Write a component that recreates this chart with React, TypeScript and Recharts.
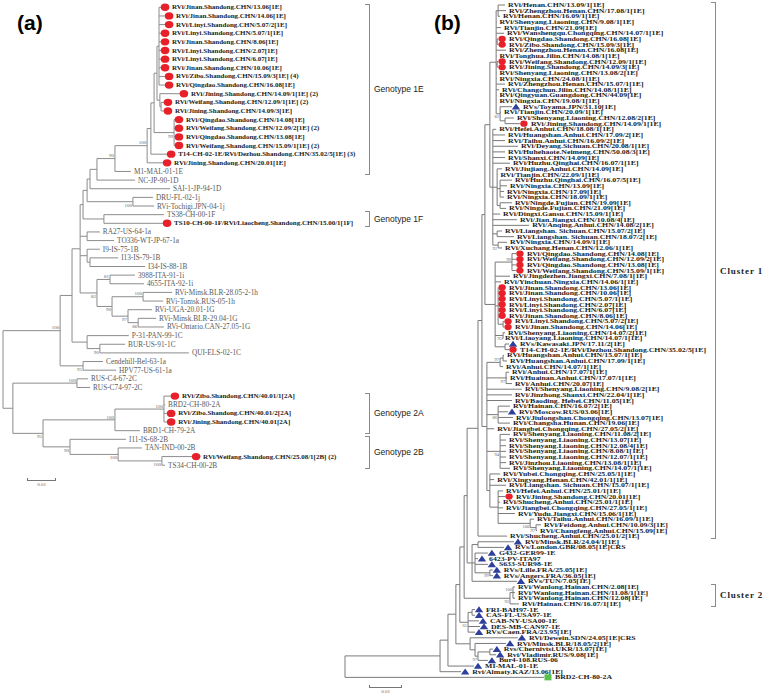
import { ScatterChart, Scatter, XAxis, YAxis, ReferenceLine } from "recharts";

// Trees in Newick form. The number after ":" is the distance of that node from the
// root, in 0.001 substitutions/site. Leaf prefix: * red dot, ^ blue triangle, # green square.
const treeA = `(
 (
  (
   (
    (
     (
      (
       (
        (
         (
          (
           (
            (
             ('*RVi/Jinan.Shandong.CHN/13.06[1E]':54.5,
              '*RVi/Jinan.Shandong.CHN/14.06[1E]':55.9,
              '*RVi/Linyi.Shandong.CHN/5.07/2[1E]':55.9,
              '*RVi/Linyi.Shandong.CHN/5.07/1[1E]':54.5,
              '*RVi/Jinan.Shandong.CHN/8.06[1E]':54.5,
              '*RVi/Linyi.Shandong.CHN/2.07[1E]':54.5,
              '*RVi/Linyi.Shandong.CHN/6.07[1E]':54.5,
              '*RVi/Jinan.Shandong.CHN/10.06[1E]':54.5,
              '*RVi/Zibo.Shandong.CHN/15.09/3[1E] (4)':55.9,
              '*RVi/Qingdao.Shandong.CHN/16.08[1E]':55.9):53.8,
             ('*RVi/Jining.Shandong.CHN/14.09/1[1E] (2)':61.0,
              ('*RVi/Weifang.Shandong.CHN/12.09/1[1E] (2)':55.5,
               '*RVi/Jining.Shandong.CHN/14.09/3[1E]':55.5):54.5):54.1):53.1,
            ('*RVi/Qingdao.Shandong.CHN/14.08[1E]':59.3,
             '*RVi/Weifang.Shandong.CHN/12.09/2[1E] (2)':59.3,
             '*RVi/Qingdao.Shandong.CHN/13.08[1E]':59.3,
             '*RVi/Weifang.Shandong.CHN/15.09/1[1E] (2)':59.3)99:59.0):52.1,
           '*T14-CH-02-1E/RVi/Dezhou.Shandong.CHN/35.02/5[1E] (3)':56.6):51.0,
          '*RVi/Jining.Shandong.CHN/20.01[1E]':55.2)100:49.7,
         'M1-MAL-01-1E':44.1)90:38.6,
        'NC-JP-90-1D':45.5):32.4,
       'SAI-1-JP-94-1D':57.6):30.0,
      ('DRU-FL-02-1j':51.7,'RVi-Tochigi.JPN-04-1j':52.1)100:44.8):29.0,
     ('TS38-CH-00-1F':55.5,'*TS10-CH-00-1F/RVi/Liaocheng.Shandong.CHN/15.00/1[1F]':55.2):34.8):27.6,
    ('RA27-US-64-1a':33.4,'TO336-WT-JP-67-1a':38.3):29.0,
    ('I9-IS-75-1B':33.4,('I13-IS-79-1B':39.7,'I34-IS-88-1B':49.0):30.0):29.0,
    (('3988-ITA-91-1i':45.5,'4655-ITA-92-1i':48.6)81:36.9,
     (('RVi-Minsk.BLR-28.05-2-1h':58.3,'RVi-Tomsk.RUS-05-1h':55.2)100:48.3,
      ('RVi-UGA-20.01-1G':51.4,
       ('RVi-Minsk.BLR-29.04-1G':52.8,'RVi-Ontario.CAN-27.05-1G':55.5)86:46.6)97:43.1)90:37.6)82:32.4):26.6,
   ('P-31-PAN-99-1C':43.4,('BUR-US-91-1C':42.1,'QUI-ELS-02-1C':64.1)90:33.4):29.0):23.8,
  ('Cendehill-Bel-63-1a':34.5,'HPV77-US-61-1a':39.0)95:27.6)100:19.7,
 (('RUS-C4-67-2C':29.3,'RUS-C74-97-2C':30.0)100:25.5,
  ((('*RVi/Zibo.Shandong.CHN/40.01/1[2A]':57.9,'BRD2-CH-80-2A':55.9,
     '*RVi/Zibo.Shandong.CHN/40.01/2[2A]':56.6,'*RVi/Jining.Shandong.CHN/40.01[2A]':56.6)100:55.5,
    'BRD1-CH-79-2A':47.2)100:38.6,
   ('I11-IS-68-2B':42.4,
    ('TAN-IND-00-2B':47.9,
     ('*RVi/Weifang.Shandong.CHN/25.08/1[2B] (2)':65.2,'TS34-CH-00-2B':55.9)100:54.8)100:39.7)90:23.1)95:13.8):3.4
):0`;

const treeB = `(
 (
  (
   (
    (
     (
      (
       (
        (
         (
          (
           (
            ('RVi/Henan.CHN/13.09/1[1E]':48.5,'RVi/Zhengzhou.Henan.CHN/17.08/1[1E]':48.8,'RVi/Henan.CHN/16.09/1[1E]':47.0):46.4,
            'RVi/Shenyang.Liaoning.CHN/9.08/1[1E]':45.9,
            'RVi/Tianjin.CHN/21.09[1E]':47.3,
            'RVi/Wanshengqu.Chongqing.CHN/14.07/1[1E]':48.2,
            ('*RVi/Qingdao.Shandong.CHN/16.08[1E]':46.4,'*RVi/Zibo.Shandong.CHN/15.09/3[1E]':46.4):46.1,
            'RVi/Zhengzhou.Henan.CHN/16.08[1E]':48.8,
            'RVi/Tonghua.Jilin.CHN/14.08/1[1E]':45.9,
            ('*RVi/Weifang.Shandong.CHN/12.09/1[1E]':46.4,'*RVi/Jining.Shandong.CHN/14.09/3[1E]':46.4):46.1,
            'RVi/Shenyang.Liaoning.CHN/13.08/2[1E]':45.9,
            'RVi/Ningxia.CHN/24.08/1[1E]':45.9,
            'RVi/Zhengzhou.Henan.CHN/15.07/1[1E]':48.5,
            'RVi/Changchun.Jilin.CHN/14.08/1[1E]':46.7,
            'RVi/Qingyuan.Guangdong.CHN/44.09[1E]':45.9,
            'RVi/Ningxia.CHN/19.08/1[1E]':45.9,
            ('^RVs/Toyama.JPN/31.10[1E]':50.6,'RVi/Tianjin.CHN/20.09/1[1E]':47.3,
             ('RVi/Shenyang.Liaoning.CHN/12.08/2[1E]':51.2,'*RVi/Jining.Shandong.CHN/14.09/1[1E]':53.0):48.5)82:47.0):45.8,
           ('RVi/Hefei.Anhui.CHN/18.08/1[1E]':45.8,
            'RVi/Huangshan.Anhui.CHN/17.09/2[1E]':48.5,
            'RVi/Taihu.Anhui.CHN/16.09/2[1E]':48.5,
            'RVi/Deyang.Sichuan.CHN/20.08/1[1E]':52.4,
            'RVi/Huhehaote.Neimeng.CHN/50.08/3[1E]':48.5,
            'RVi/Shanxi.CHN/14.09[1E]':48.5,
            'RVi/Huzhu.Qinghai.CHN/16.07/1[1E]':50.0,
            ('RVi/Jiujiang.Anhui.CHN/14.09[1E]':47.6,'RVi/Tianjin.CHN/22.09/1[1E]':46.2,
             ('RVi/Huzhu.Qinghai.CHN/16.07/5[1E]':50.6,'RVi/Ningxia.CHN/13.09[1E]':49.1,'RVi/Ningxia.CHN/17.09[1E]':48.2,'RVi/Ningxia.CHN/18.09/1[1E]':48.2):47.0,
             ('RVi/Ningde.Fujian.CHN/19.09[1E]':50.6,'RVi/Ningde.Fujian.CHN/21.09[1E]':48.8):47.0):46.1,
            'RVi/Dingxi.Gansu.CHN/15.09/1[1E]':47.0,
            'RVi/Jian.Jiangxi.CHN/10.08/4[1E]':52.1,
            'RVi/Anqing.Anhui.CHN/14.08/2[1E]':55.8,
            ('RVi/Liangshan. Sichuan.CHN/15.07/2[1E]':47.6,'RVi/Liangshan. Sichuan.CHN/18.07/2[1E]':51.2):46.1,
            ('RVi/Ningxia.CHN/14.09/1[1E]':49.1,'RVi/Xuchang.Henan.CHN/12.06/1[1E]':47.6)92:46.4):44.8):43.9,
          (('*RVi/Qingdao.Shandong.CHN/14.08[1E]':51.8,'*RVi/Weifang.Shandong.CHN/12.09/2[1E]':51.8,'*RVi/Qingdao.Shandong.CHN/13.08[1E]':51.8,'*RVi/Weifang.Shandong.CHN/15.09/1[1E]':51.8)99:50.6,
           'RVi/Jingdezhen.Jiangxi.CHN/7.08/1[1E]':50.0,
           'RVi/Yinchuan.Ningxia.CHN/14.06/1[1E]':47.3,
           ('*RVi/Jinan.Shandong.CHN/13.06[1E]':46.4,'*RVi/Jinan.Shandong.CHN/10.06[1E]':46.4,'*RVi/Linyi.Shandong.CHN/5.07/1[1E]':46.4,'*RVi/Linyi.Shandong.CHN/2.07[1E]':46.4,'*RVi/Linyi.Shandong.CHN/6.07[1E]':46.4,'*RVi/Jinan.Shandong.CHN/8.06[1E]':46.4,
            ('*RVi/Linyi.Shandong.CHN/5.07/2[1E]':48.2,'*RVi/Jinan.Shandong.CHN/14.06[1E]':48.2):47.9):46.4,
           ('RVi/Shenyang.Liaoning.CHN/14.07/2[1E]':48.5,'RVi/Liaoyang.Liaoning.CHN/14.07/1[1E]':47.6)95:47.9,
           ('^RVs/Kawasaki.JPN/17.11/2[1E]':49.7,'*T14-CH-02-1E/RVi/Dezhou.Shandong.CHN/35.02/5[1E]':49.7):48.5):45.5):42.4,
         ((('RVi/Huangshan.Anhui.CHN/15.07/1[1E]':48.2,'RVi/Huangshan.Anhui.CHN/17.09/1[1E]':49.1):47.9,'RVi/Anhui.CHN/14.07/1[1E]':47.9)97:47.0,
          ('RVi/Anhui.CHN/17.07/1[1E]':49.7,'RVi/Huainan.Anhui.CHN/17.07/1[1E]':49.1,'RVi/Anhui.CHN/20.07[1E]':50.6)97:48.8,
          'RVi/Shenyang.Liaoning.CHN/9.08/2[1E]':53.6,
          'RVi/Jinzhong.Shanxi.CHN/22.04/1[1E]':50.6,
          'RVi/Baoding. Hebei.CHN/11.05[1E]':50.6,
          ('RVi/Hainan.CHN/16.07/2[1E]':50.0,'^RVi/Moscow.RUS/03.06[1E]':49.4,'RVi/Jiulongshan.Chongqing.CHN/13.07[1E]':50.9,'RVi/Changsha.Hunan.CHN/19.06[1E]':50.0)86:46.4,
          'RVi/Jiangbei.Chongqing.CHN/27.05/2[1E]':45.2,
          ('RVi/Shenyang.Liaoning.CHN/11.08/2[1E]':50.0,'RVi/Shenyang.Liaoning.CHN/13.07[1E]':48.8,'RVi/Shenyang.Liaoning.CHN/12.08/4[1E]':48.8,'RVi/Shenyang.Liaoning.CHN/8.08/1[1E]':48.8,'RVi/Shenyang.Liaoning.CHN/12.07/1[1E]':48.8,'RVi/Jinzhou.Liaoning.CHN/13.08/1[1E]':48.8,'RVi/Shenyang.Liaoning.CHN/14.07/1[1E]':50.0)94:47.0,
          ('RVi/Yubei.Chongqing.CHN/25.05/1[1E]':47.0,'RVi/Xingyang.Henan.CHN/42.01/1[1E]':45.2,'RVi/Liangshan. Sichuan.CHN/15.07/1[1E]':48.8,
           ('RVi/Hefei.Anhui.CHN/25.01/1[1E]':47.9,'*RVi/Jining.Shandong.CHN/20.01[1E]':48.5,'RVi/Shucheng.Anhui.CHN/25.01/1[1E]':47.0,'RVi/Jiangbei.Chongqing.CHN/27.05/1[1E]':47.9,'RVi/Yudu.Jiangxi.CHN/15.06/1[1E]':51.5,
            ('RVi/Taihu.Anhui.CHN/16.09/1[1E]':57.3,('RVi/Feidong.Anhui.CHN/10.09/3[1E]':59.4,'RVi/Changfeng.Anhui.CHN/15.09[1E]':58.2)97:57.9)100:56.1):46.4):43.9):43.0):41.5,
        'RVi/Shucheng.Anhui.CHN/25.01/2[1E]':49.1):40.3,
       (('^RVi/Minsk.BLR/24.04/1[1E]':51.2,'^RVs/London.GBR/08.05[1E]CRS':48.2):40.3,
        ('^G432-GER99-1E':43.3,'^6423-PV-ITA97':40.3,'^S633-SUR98-1E':43.3,('^RVs/Lille.FRA/25.05[1E]':44.8,'^RVs/Angers.FRA/36.05[1E]':44.8)99:43.9):39.4,
        '^RVs/TUN/7.05[1E]':52.1):38.5):37.0,
      (('RVi/Wanlong.Hainan.CHN/2.08[1E]':51.5,'RVi/Wanlong.Hainan.CHN/11.08/1[1E]':51.5,'RVi/Wanlong.Hainan.CHN/12.08[1E]':51.5)100:50.9,'RVi/Hainan.CHN/16.07/1[1E]':52.7)92:50.0):36.1,
     (('^FRI-BAH97-1E':39.4,'^CAS-FL-USA97-1E':39.4):38.5,'^CAB-NY-USA00-1E':40.6,'^DES-MB-CAN97-1E':40.9,'^RVs/Caen.FRA/23.95[1E]':39.4)65:37.3):34.8,
    ('^RVi/Dewein.SDN/24.05[1E]CRS':52.4,
     ('^RVi/Minsk.BLR/18.05/2[1E]':48.8,
      (('^Rvs/Chernivtsi.UKR/13.07[1E]':44.8,'^Rvi/Vladimir.RUS/9.08[1E]':45.8):43.9,'^Bur4-108.RUS-06':43.3)97:40.3):39.4):37.9):33.6,
   '^MI-MAL-01-1E':39.1):31.2,
  '^Rvi/Almaty.KAZ/13.06[1E]':35.2):28.8,
 '#BRD2-CH-80-2A':60.3):0`;

// brackets: leaf rows covered (0-based) and their names
const genotypeNames = ["Genotype 1E", "Genotype 1F", "Genotype 2A", "Genotype 2B"];
const genotypeRows = [[0, 19], [24, 25], [45, 49], [50, 53]];
const clusterNames = ["Cluster 1", "Cluster 2"];
const clusterRows = [[0, 94], [103, 106]];

const W = 768;
const H = 696;

// px per 0.001 subst/site, root x, first row y, row step
const cfgA = { unit: 2.9, root: 3, row0: 7.3, step: 8.64, font: 7, squash: 1, boot: 5, branch: "#8c8c8c", allBold: false, dot: 4 };
const cfgB = { unit: 3.3, root: 345, row0: 5, step: 5.65, font: 7.8, squash: 0.72, boot: 4.5, branch: "#7a7a7a", allBold: true, dot: 3.4 };

function parseNewick(s: string) {
  let i = 0;
  const skip = () => { while (i < s.length && /\s/.test(s[i])) i++; };
  const readName = () => {
    skip();
    if (s[i] === "'") {
      const j = s.indexOf("'", i + 1);
      const n = s.slice(i + 1, j);
      i = j + 1;
      return n;
    }
    let n = "";
    while (i < s.length && !"(),:;".includes(s[i]) && !/\s/.test(s[i])) n += s[i++];
    return n;
  };
  const node = (): any => {
    skip();
    const nd: any = { name: "", depth: 0, children: [] };
    if (s[i] === "(") {
      i++;
      do { nd.children.push(node()); skip(); } while (s[i++] === ",");
    }
    nd.name = readName();
    skip();
    if (s[i] === ":") { i++; nd.depth = parseFloat(readName()); }
    return nd;
  };
  return node();
}

function layout(root: any) {
  const leaves: any[] = [];
  const nodes: any[] = [];
  const segs: any[] = [];
  let row = 0;
  const walk = (n: any, first: boolean) => {
    if (!n.children.length) {
      n.y = row++;
      const mark = "*^#".includes(n.name[0]) ? n.name[0] : "";
      leaves.push({ x: n.depth, y: n.y, label: mark ? n.name.slice(1) : n.name, mark });
      return;
    }
    n.children.forEach((c: any, k: number) => walk(c, k === 0));
    const a = n.children[0];
    const b = n.children[n.children.length - 1];
    n.y = (a.y + b.y) / 2;
    segs.push([n.depth, a.y, n.depth, b.y]);
    n.children.forEach((c: any) => segs.push([n.depth, c.y, c.depth, c.y]));
    if (n.name) nodes.push({ x: n.depth, y: n.y, label: n.name, up: first });
  };
  walk(root, true);
  return { leaves, nodes, segs };
}

const Leaf = ({ cx, cy, payload, cfg }: any) => {
  const { label, mark } = payload;
  const mx = cx + 4;
  let m = null;
  if (mark === "*") m = <ellipse cx={mx} cy={cy} rx={cfg.dot + 0.3} ry={cfg.dot * 0.92} fill="#e8202a" />;
  if (mark === "^") m = <polygon points={`${mx - 4.2},${cy + 2.8} ${mx + 4.2},${cy + 2.8} ${mx},${cy - 3.2}`} fill="#2e3f9c" />;
  if (mark === "#") m = <rect x={mx - 3.5} y={cy - 3} width={7} height={6} fill="#58c14a" />;
  const bold = cfg.allBold || !!mark;
  const tx = cx + (mark ? 11 : 3);
  return (
    <g>
      {m}
      <g transform={`translate(${tx},${cy}) scale(1,${cfg.squash})`}>
        <text x={0} y={0} dominantBaseline="central" fontFamily="Liberation Serif" fontSize={bold ? cfg.font : cfg.font + 0.3}
          fontWeight={bold ? "bold" : "normal"} fill={bold ? "#1c1c1c" : "#5a5a5a"}>
          {label}
        </text>
      </g>
    </g>
  );
};

const Boot = ({ cx, cy, payload, cfg }: any) => (
  <text x={cx - 1} y={payload.up ? cy - 1.3 : cy + cfg.boot * 0.8 + 1} textAnchor="end"
    fontFamily="Liberation Serif" fontSize={cfg.boot} fill="#666">
    {payload.label}
  </text>
);

function TreePanel({ tree, cfg }: any) {
  const { leaves, nodes, segs } = layout(parseNewick(tree));
  const xDom = [-cfg.root / cfg.unit, (W - cfg.root) / cfg.unit];
  const yDom = [-cfg.row0 / cfg.step, (H - cfg.row0) / cfg.step];
  return (
    <div style={{ position: "absolute", left: 0, top: 0 }}>
      <ScatterChart width={W} height={H} margin={{ top: 0, right: 0, bottom: 0, left: 0 }}>
        <XAxis type="number" dataKey="x" domain={xDom} allowDataOverflow hide />
        <YAxis type="number" dataKey="y" domain={yDom} allowDataOverflow reversed hide />
        {segs.map((s: number[], i: number) => (
          <ReferenceLine key={i} segment={[{ x: s[0], y: s[1] }, { x: s[2], y: s[3] }]}
            stroke={cfg.branch} strokeWidth={1} ifOverflow="visible" />
        ))}
        <Scatter data={leaves} isAnimationActive={false} shape={(p: any) => <Leaf {...p} cfg={cfg} />} />
        <Scatter data={nodes} isAnimationActive={false} shape={(p: any) => <Boot {...p} cfg={cfg} />} />
      </ScatterChart>
    </div>
  );
}

const rowY = (cfg: any, r: number) => cfg.row0 + r * cfg.step;

function Bracket({ cfg, rows, name, x, pad, textStyle }: any) {
  const top = rowY(cfg, rows[0]) - pad;
  const bottom = rowY(cfg, rows[1]) + pad;
  return (
    <>
      <div style={{ position: "absolute", left: x - 5, top, width: 5, height: bottom - top,
        borderTop: "1px solid #8a8a8a", borderRight: "1px solid #8a8a8a", borderBottom: "1px solid #8a8a8a", boxSizing: "border-box" }} />
      <div style={{ position: "absolute", left: x + 4, top: (top + bottom) / 2 - 7, lineHeight: "14px", whiteSpace: "nowrap", ...textStyle }}>
        {name}
      </div>
    </>
  );
}

function ScaleBar({ left, top, len }: any) {
  return (
    <>
      <div style={{ position: "absolute", left, top: top - 2, width: len, height: 3,
        borderLeft: "1px solid #777", borderRight: "1px solid #777", boxSizing: "border-box" }} />
      <div style={{ position: "absolute", left, top, width: len, height: 0, borderTop: "1px solid #777" }} />
      <div style={{ position: "absolute", left, top: top + 2, width: len, textAlign: "center",
        fontFamily: "Liberation Serif", fontSize: 5, color: "#666", lineHeight: "6px" }}>0.01</div>
    </>
  );
}

export default function App() {
  const sans = { fontFamily: "Liberation Sans", fontSize: 8.5, color: "#222" };
  const serifBold = { fontFamily: "Liberation Serif", fontWeight: "bold", fontSize: 9, letterSpacing: 0.9, color: "#222" };
  return (
    <div style={{ position: "absolute", left: 0, top: 0, width: W, height: H, background: "#fff", overflow: "hidden" }}>
      <TreePanel tree={treeA} cfg={cfgA} />
      <TreePanel tree={treeB} cfg={cfgB} />
      <div style={{ position: "absolute", left: 17, top: 11, fontFamily: "Liberation Sans", fontWeight: "bold", fontSize: 21, lineHeight: "24px" }}>(a)</div>
      <div style={{ position: "absolute", left: 434, top: 11, fontFamily: "Liberation Sans", fontWeight: "bold", fontSize: 21, lineHeight: "24px" }}>(b)</div>
      {genotypeNames.map((n, i) => (
        <Bracket key={n} cfg={cfgA} rows={genotypeRows[i]} name={n} x={370} pad={3.5} textStyle={sans} />
      ))}
      {clusterNames.map((n, i) => (
        <Bracket key={n} cfg={cfgB} rows={clusterRows[i]} name={n} x={716} pad={3} textStyle={serifBold} />
      ))}
      <ScaleBar left={27} top={480} len={10 * cfgA.unit} />
      <ScaleBar left={369} top={687} len={10 * cfgB.unit} />
    </div>
  );
}
